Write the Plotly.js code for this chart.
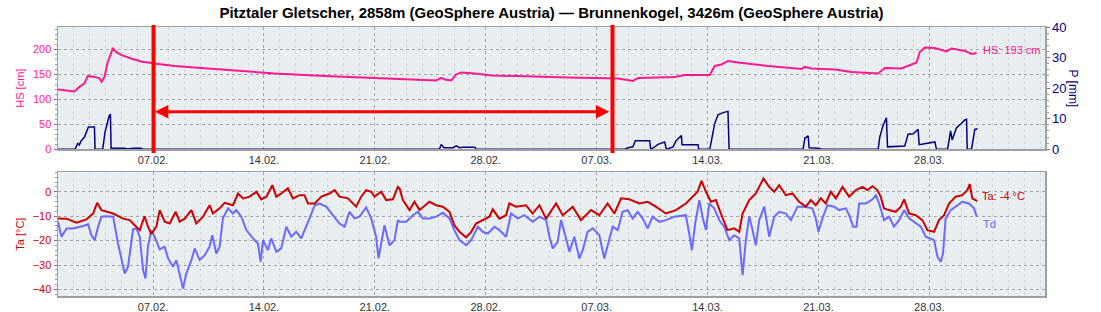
<!DOCTYPE html>
<html>
<head>
<meta charset="utf-8">
<script src="https://cdn.plot.ly/plotly-3.0.1.min.js"></script>
<style>html,body{margin:0;padding:0;background:#fff;}#chart{width:1101px;height:312px;}</style>
</head>
<body>
<div id="chart"></div>
<script>
// Time base: days since 2025-02-01 00:00
const startDate = '2025-02-01';
const titleText = 'Pitztaler Gletscher, 2858m (GeoSphere Austria) — Brunnenkogel, 3426m (GeoSphere Austria)';
// Weekly tick positions (days since start): 07.02. … 28.03.
const tickDays = [6, 13, 20, 27, 34, 41, 48, 55];

// Snow height HS [cm]
const hsDay = [0,1.03,1.35,1.67,1.88,2.30,2.61,2.76,2.93,3.14,3.35,3.45,3.66,3.98,4.61,5.24,6.09,7.35,9.45,11.56,13.66,16.82,19.98,23.14,23.87,24.19,24.40,24.82,25.14,25.45,26.30,27.35,29.14,32.19,35.35,36.30,36.61,37.87,38.93,39.56,41.14,41.45,41.87,42.29,42.92,44.82,46.93,47.14,47.56,49.03,50.08,51.77,52.19,53.24,53.77,54.19,54.40,54.71,55.35,56.08,56.40,57.24,57.66,57.98];
const hs = [120,116,125,132,147,145,142,135,145,175,192,203,195,189,182,176,172,167,162,157,152,147,143,140,138,143,140,138,150,154,152,148,147,144,142,137,143,144,145,149,149,167,170,177,174,167,161,165,162,160,155,152,163,162,168,174,195,204,203,196,202,197,191,193];

// Precipitation P [mm]
const pDay = [0,1.08,1.24,1.35,1.45,1.67,1.92,2.30,2.34,2.82,2.97,3.14,3.24,3.31,3.35,4.19,4.40,4.72,5.24,5.35,24.08,24.19,24.36,24.93,25.14,25.35,25.56,26.30,26.40,35.77,35.98,36.29,36.44,37.35,37.41,37.66,37.87,38.29,38.40,38.82,39.03,39.35,39.39,40.40,40.44,41.14,41.24,41.45,41.66,41.98,42.29,42.36,47.03,47.14,47.35,47.41,48.08,48.19,51.77,51.87,52.08,52.29,52.36,53.45,53.66,53.98,54.29,54.36,55.35,55.45,56.15,56.34,56.44,56.71,57.03,57.24,57.35,57.39,57.66,57.77,57.87,58.04];
const p = [0,0,1.9,1.4,2.7,4.0,7.3,7.3,0,0,5.7,9.5,11.1,11.3,0.3,0.3,0.1,0.3,0.3,0,0,1.6,0.5,0.5,1.1,0.5,0.7,0.7,0,0,0.5,0.8,2.8,2.8,0,0.8,1.6,2.4,0,0.8,2.9,4.5,1.5,1.5,0,0,2.9,8.4,11.3,12.0,12.4,0,0,3.6,4.4,0.5,0.3,0,0,4.0,7.8,10.3,0.8,1.1,4.9,5.1,6.5,1.5,2.4,0,0,6.0,3.0,7.0,8.5,9.6,9.8,0,0,3.0,6.5,6.7];

// Air temperature Ta [°C]
const taDay = [0,0.53,1.17,1.80,2.22,2.47,2.74,3.48,4.11,4.53,4.84,5.16,5.47,5.68,5.89,6.21,6.42,6.74,7.05,7.43,7.68,8.00,8.42,8.73,9.15,9.57,9.78,10.20,10.52,11.05,11.36,11.68,12.10,12.52,12.83,13.15,13.53,13.78,14.09,14.51,14.83,15.25,15.56,15.78,16.20,16.62,17.14,17.46,17.77,18.30,18.82,19.14,19.45,19.77,19.98,20.40,20.72,21.14,21.45,
  21.56,21.77,22.19,22.50,22.82,23.45,23.87,24.29,24.71,25.02,25.34,25.76,26.08,26.39,26.81,27.23,27.44,27.86,28.28,28.49,28.91,29.54,29.96,30.39,30.81,31.44,31.86,32.49,33.01,33.64,34.17,34.69,35.12,35.54,36.06,36.69,37.22,37.74,38.37,39.00,39.63,40.05,40.37,40.62,40.90,41.21,41.53,41.84,42.26,42.68,43.00,43.21,43.63,44.05,44.26,44.53,44.89,45.21,45.52,45.94,46.36,46.78,
  47.20,47.52,47.83,48.15,48.46,48.78,49.10,49.52,49.94,50.36,50.78,51.09,51.41,51.72,51.93,52.14,52.46,52.88,53.20,53.41,53.72,54.14,54.56,54.88,55.30,55.61,55.93,56.24,56.66,57.08,57.40,57.55,57.71,58.03];
const ta = [-10.9,-11,-12.7,-11.3,-8.9,-4.5,-7.5,-8.9,-11,-11.6,-13.7,-15.7,-10,-14.3,-17.3,-14.3,-7.5,-12.3,-13,-8.2,-12.3,-11,-7.5,-13,-10.2,-5.5,-8.9,-6.8,-4.5,-5.5,-0.7,-2.7,-2,0,-3.1,-2,2.7,-2,-0.7,1.4,-2.7,-1.4,-1.4,-4.8,-4.8,-2,-0.7,0.7,-2,-2.7,-6.1,-2,0.7,0,-2,0,-3.4,-3.1,2,
  1.4,-3.4,-7.5,-4.1,-7.5,-4.1,-5.5,-6.1,-8.2,-13.7,-16.4,-18.7,-16.4,-13,-11.6,-10.2,-7.2,-11,-9.6,-4.8,-6.1,-5.5,-8.9,-5.5,-11,-4.8,-9.6,-6.1,-11.6,-7.5,-9.6,-4.8,-8.9,-2.7,-3.1,-4.8,-4.1,-6.1,-8.9,-7.5,-4.8,-2,0,4.5,0,-4.1,-3.4,-8.9,-15.7,-15,-16.4,-8.9,-3.4,-0.7,2,5.5,2,0,2.7,-1.4,-0.7,-4.1,
  -6.1,-3.4,-5.5,-2.7,-4.8,0,-2.7,2,-2,0.7,2,0.7,2.3,0.7,-2,-6.8,-7.5,-8.2,-6.1,-3.1,-8.9,-9.6,-11.6,-15.7,-16.4,-11.6,-9.6,-4.8,-2,-1.4,0.7,3.1,-2.7,-3.8];

// Dew point Td [°C]
const tdDay = [0,0.22,0.54,0.95,1.59,1.90,2.11,2.32,2.53,2.74,3.06,3.48,3.79,4.00,4.21,4.42,4.74,4.95,5.16,5.37,5.52,5.68,5.89,6.10,6.42,6.73,6.95,7.26,7.47,7.89,8.10,8.42,8.63,8.94,9.26,9.57,9.74,9.99,10.20,10.41,10.73,11.04,11.25,11.57,11.89,12.31,12.62,12.79,12.94,13.25,13.46,13.78,14.09,14.41,14.72,15.04,15.35,15.88,16.20,16.51,16.93,17.35,17.77,18.09,18.40,18.72,19.03,19.45,19.77,20.08,20.23,20.40,20.61,20.92,21.24,21.45,
  21.56,21.98,22.40,22.71,23.03,23.45,23.87,24.29,24.71,25.02,25.34,25.76,26.08,26.50,26.81,27.13,27.55,27.86,28.28,28.60,29.02,29.44,29.96,30.39,30.81,31.02,31.23,31.54,31.75,32.07,32.28,32.59,32.91,33.12,33.43,33.75,34.17,34.48,34.76,35.01,35.33,35.64,35.96,36.27,36.59,36.90,37.22,37.53,37.95,38.37,38.90,39.63,39.84,40.01,40.22,40.48,40.73,40.90,41.11,41.42,41.74,42.05,42.37,42.68,43.00,43.21,43.42,
  43.63,43.84,44.05,44.26,44.58,44.89,45.21,45.52,45.94,46.26,46.68,47.10,47.62,47.83,48.00,48.25,48.57,48.99,49.31,49.73,49.94,50.19,50.40,50.57,50.99,51.41,51.62,51.83,52.14,52.46,52.77,53.09,53.41,53.72,54.04,54.46,54.77,55.09,55.30,55.51,55.72,55.86,56.03,56.35,56.77,57.08,57.50,57.82,57.99];
const td = [-12.3,-18.4,-15,-15,-14,-13.3,-17.8,-19.8,-14.3,-10.2,-10,-10.2,-21.2,-28,-33.5,-30.7,-15.4,-15,-18.4,-32.1,-35.5,-22.5,-15.7,-18.4,-23.6,-22.5,-27.3,-30.7,-28,-39.6,-33.5,-28,-23.2,-28,-26,-22.5,-17.8,-25.3,-22.5,-10.9,-6.8,-8.9,-7.5,-10.2,-15.7,-19.1,-21.2,-28.7,-19.8,-23.9,-19.1,-24.6,-23.2,-14.3,-18.4,-16.4,-19.1,-10.9,-5.5,-4.8,-6.1,-9.6,-13,-14.3,-8.2,-10.9,-10.2,-6.4,-10.9,-18.4,-27.3,-21.2,-13.7,-21.9,-19.8,-11.6,
  -12.3,-12.3,-9.6,-8.2,-10.9,-10.9,-10.2,-8.6,-10.9,-15.7,-19.8,-21.9,-19.8,-14.3,-16.4,-17.1,-14.3,-15.7,-18.4,-8.9,-10.9,-9.6,-12.3,-10.2,-11.6,-18.4,-23.2,-20.5,-11.6,-19.1,-24.6,-18.4,-27.3,-23.9,-16.4,-15,-17.8,-27.3,-19.8,-14.3,-15.7,-8.2,-7.5,-10.9,-8.2,-10.9,-15,-10.2,-12.3,-11.6,-10.2,-9.6,-17.1,-23.9,-13,-3.4,-11.6,-15.7,-4.8,-6.8,-11.6,-14.3,-19.8,-17.8,-19.1,-34.2,-19.8,
  -10,-15.7,-21.9,-11.6,-6.1,-18.4,-10.2,-8.2,-8.9,-11.6,-6.1,-6.1,-6.8,-10.9,-16.4,-10.9,-5.5,-6.1,-7.5,-6.8,-9.6,-14.3,-14.3,-4.8,-4.8,-3.1,-1.4,-4.8,-11.6,-10.2,-14.3,-11.6,-7.5,-10.9,-12.3,-14.3,-18.4,-19.1,-19.8,-26.6,-28.7,-25.3,-10.9,-7.5,-5.5,-4.1,-4.8,-6.8,-10.2];

// Marked period (red overlay): vertical markers and double arrow
const markerDays = [6.03, 35.0];
const arrowDays = [6.11, 34.9];
const arrowLevelHS = 75;

const labels = {hs:'HS: 193 cm', ta:'Ta: -4 °C', td:'Td'};

const DAY0 = Date.parse(startDate + 'T00:00:00Z');
function toDate(d){ return new Date(DAY0 + d*864e5).toISOString().slice(0,19).replace('T',' '); }
const dates = a => a.map(toDate);

const FONT = 'Liberation Sans, Arial, Helvetica, sans-serif';
const PINK = '#ff1a8c', NAVY = '#00007f', RED = '#cc0000', BLUE = '#6a6aff';
const GRID = '#a6a6a6', MINOR = '#d2d8dc', AXL = '#a0a0a0';

const traces = [
  {x: dates(pDay), y: p, yaxis:'y2', xaxis:'x', mode:'lines', line:{color:NAVY, width:1.5}, hoverinfo:'skip'},
  {x: dates(hsDay), y: hs, yaxis:'y', xaxis:'x', mode:'lines', line:{color:PINK, width:2}, hoverinfo:'skip'},
  {x: dates(tdDay), y: td, yaxis:'y3', xaxis:'x2', mode:'lines', line:{color:BLUE, width:2}, hoverinfo:'skip'},
  {x: dates(taDay), y: ta, yaxis:'y3', xaxis:'x2', mode:'lines', line:{color:RED, width:2}, hoverinfo:'skip'}
];

const xCommon = {
  type:'date', range:[toDate(0), toDate(62.3)], tickmode:'array', tickvals: dates(tickDays),
  tickformat:'%d.%m.', tickfont:{size:11, color:'#333'},
  showgrid:true, gridcolor:GRID, griddash:'3px,3px', gridwidth:1,
  minor:{tickmode:'linear', tick0:toDate(0), dtick:864e5, showgrid:true, gridcolor:MINOR, griddash:'3px,3px', gridwidth:1},
  showline:true, linecolor:AXL, linewidth:1.5, mirror:true, zeroline:false, ticks:'', fixedrange:true
};
const yCommon = {
  showgrid:true, gridcolor:GRID, griddash:'3px,3px', gridwidth:1,
  showline:true, linecolor:AXL, linewidth:1.5, mirror:true, zeroline:false,
  ticks:'outside', ticklen:3, tickcolor:'#777', fixedrange:true
};

const layout = {
  width:1101, height:312,
  margin:{l:58, r:56, t:27, b:16},
  paper_bgcolor:'#ffffff', plot_bgcolor:'#e9eef1',
  font:{family:FONT, size:11, color:'#333'},
  showlegend:false,
  title:{text:'<b>'+titleText+'</b>', font:{size:15, color:'#000', family:FONT}, x:0.5, xref:'paper', xanchor:'center', y:1-12.5/312, yref:'container', yanchor:'middle'},
  xaxis: Object.assign({}, xCommon, {anchor:'y'}),
  xaxis2: Object.assign({}, xCommon, {anchor:'y3', matches:'x'}),
  yaxis: Object.assign({}, yCommon, {domain:[0.5454,1], range:[0,245], dtick:50,
    tickfont:{size:11, color:PINK}, title:{text:'HS [cm]', font:{size:11, color:PINK}, standoff:6},
    minor:{dtick:10, ticks:'outside', ticklen:2, tickcolor:'#999', showgrid:false}}),
  yaxis2: {overlaying:'y', side:'right', anchor:'x', range:[0,40], dtick:10, showgrid:false, zeroline:false,
    tickfont:{size:13, color:NAVY}, ticks:'outside', ticklen:3, tickcolor:'#777',
    minor:{dtick:2, ticks:'outside', ticklen:2, tickcolor:'#999'}, showline:true, linecolor:AXL, linewidth:1.5, fixedrange:true},
  yaxis3: Object.assign({}, yCommon, {domain:[0,0.46], anchor:'x2', range:[-42.7,8], dtick:10,
    tickfont:{size:11, color:RED}, title:{text:'Ta [°C]', font:{size:11, color:RED}, standoff:6},
    minor:{dtick:2, ticks:'outside', ticklen:2, tickcolor:'#999', showgrid:false}}),
  shapes: markerDays.map(d => ({type:'line', xref:'x', yref:'paper', x0:toDate(d), x1:toDate(d), y0:0.5316, y1:1.0074,
    line:{color:'#ff0000', width:4}, layer:'above'})),
  annotations: [
    {xref:'x', yref:'y', x:toDate(arrowDays[0]), y:arrowLevelHS, axref:'x', ayref:'y', ax:toDate(arrowDays[1]), ay:arrowLevelHS,
      text:'', showarrow:true, arrowside:'end+start', arrowhead:2, startarrowhead:2, arrowsize:0.9, startarrowsize:0.9,
      arrowwidth:3, arrowcolor:'#ff0000'},
    {xref:'x', yref:'y', x:toDate(hsDay[hsDay.length-1]), y:198, text:labels.hs, showarrow:false, xanchor:'left', xshift:4, font:{size:11, color:PINK}},
    {xref:'x2', yref:'y3', x:toDate(taDay[taDay.length-1]), y:-1.6, text:labels.ta, showarrow:false, xanchor:'left', xshift:3, font:{size:11, color:RED}},
    {xref:'x2', yref:'y3', x:toDate(tdDay[tdDay.length-1]), y:-13.2, text:labels.td, showarrow:false, xanchor:'left', xshift:4, font:{size:11, color:BLUE}},
    {xref:'paper', yref:'paper', x:1.028, y:0.773, text:'P [mm]', textangle:90, showarrow:false, xanchor:'center', yanchor:'middle', font:{size:12, color:NAVY}}
  ]
};

Plotly.newPlot('chart', traces, layout, {displayModeBar:false, staticPlot:true});
</script>
</body>
</html>
